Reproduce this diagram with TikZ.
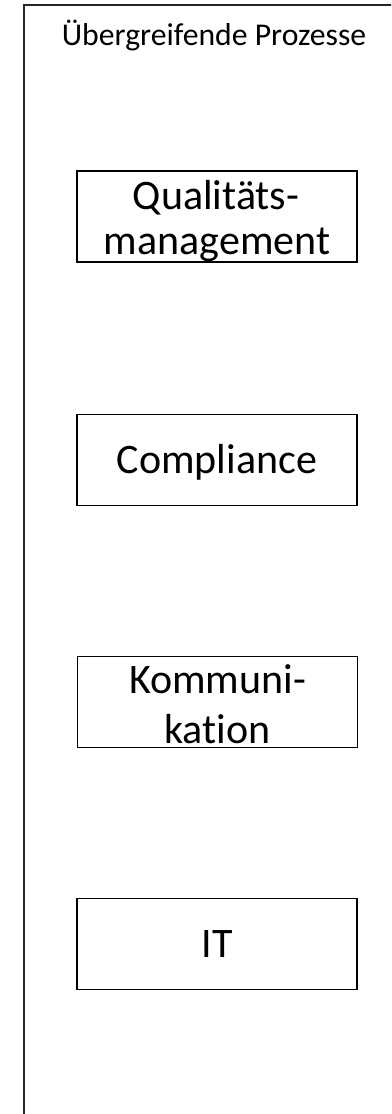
\documentclass[tikz,border=0pt]{standalone}
\usepackage{fontspec}
\setmainfont{Carlito}[RawFeature=-liga]
\begin{document}
\begin{tikzpicture}[x=1pt,y=-1pt,
  frame/.style={draw=black!85,line width=1.8pt},
  procbox/.style={draw=black,line width=1.3pt,minimum width=280pt,minimum height=91pt,inner sep=0pt,
    font=\fontsize{42}{45}\selectfont,text height=27pt,text depth=0pt},
  lbl/.style={anchor=base,inner sep=0pt,font=\fontsize{42}{45}\selectfont},
  title/.style={anchor=base,inner sep=0pt,font=\fontsize{31.7}{36}\selectfont}]
\useasboundingbox (0,0) rectangle (391,1114);
\begin{scope}
\clip (0,0) rectangle (391,1114);
\draw[frame] (24,5) rectangle (410,1130);
\end{scope}
\node[title] (t) at (214,45) {Übergreifende Prozesse};
\node[procbox] (qm) at (217,216.5) {};
\node[lbl] (qm1) at (216,209) {Qualitäts-};
\node[lbl] (qm2) at (217,254) {management};
\node[procbox] (co) at (217,460) {Compliance};
\node[procbox] (ko) at (217.5,702) {};
\node[lbl] (ko1) at (217.5,693) {Kommuni-};
\node[lbl] (ko2) at (217.5,743) {kation};
\node[procbox] (it) at (217,944) {IT};
\end{tikzpicture}
\end{document}
